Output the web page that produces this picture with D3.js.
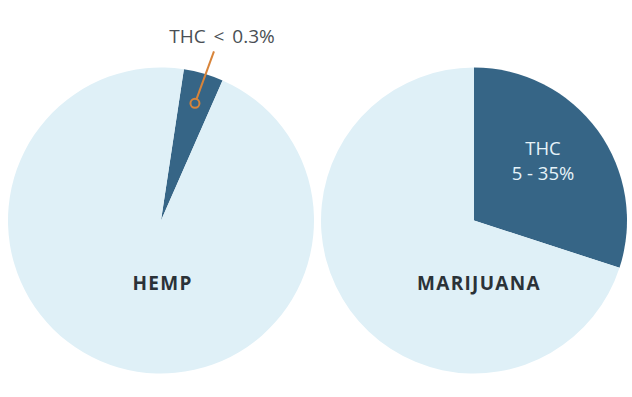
<!DOCTYPE html>
<html>
<head>
<meta charset="utf-8">
<script src="https://cdn.jsdelivr.net/npm/d3@7"></script>
<style>
  html, body { margin: 0; padding: 0; background: #fff; }
  svg { display: block; font-family: "Open Sans", "Noto Sans", sans-serif; }
</style>
</head>
<body>
<div id="chart"></div>
<script>
// Dados das pizzas
const plants = ['HEMP', 'MARIJUANA'];
const hempValues = [4.2, 95.8];        // THC, resto
const marijuanaValues = [30, 70];      // THC, resto
const sliceNames = ['THC', 'Outros'];
const hempLabel = 'THC < 0.3%';
const marijuanaLabel = ['THC', '5 - 35%'];

const width = 632, height = 397;
const colors = d3.scaleOrdinal().domain(sliceNames).range(['#366586', '#dff0f7']);

const svg = d3.select('#chart').append('svg')
    .attr('width', width)
    .attr('height', height);

const radius = 153;
const centerX = d3.scalePoint().domain(plants).range([161, 474]);
const cy = 220.5;

const arc = d3.arc().innerRadius(0).outerRadius(radius);

function drawPie(name, values, startAngle, labelDx) {
    const pie = d3.pie().sort(null)
        .startAngle(startAngle)
        .endAngle(startAngle + 2 * Math.PI);
    const arcs = pie(values);
    const g = svg.append('g')
        .attr('transform', `translate(${centerX(name)},${cy})`);
    g.selectAll('path')
        .data(arcs)
        .enter()
        .append('path')
        .attr('d', arc)
        .attr('fill', (d, i) => colors(sliceNames[i]));
    g.append('text')
        .attr('x', labelDx)
        .attr('y', 69)
        .attr('text-anchor', 'middle')
        .attr('font-size', '19px')
        .attr('font-weight', 700)
        .attr('letter-spacing', '1.3px')
        .attr('fill', '#2b3238')
        .text(name);
    return { g, arcs };
}

// Cânhamo (fatia começa ligeiramente deslocada)
const hemp = drawPie('HEMP', hempValues, 8.6 * Math.PI / 180, 1.5);
// Maconha
const mj = drawPie('MARIJUANA', marijuanaValues, 0, 5);

// Linha de chamada do cânhamo
const thcArc = hemp.arcs[0];
const midA = (thcArc.startAngle + thcArc.endAngle) / 2;
const dotR = 122;
const dot = [Math.sin(midA) * dotR, -Math.cos(midA) * dotR];
const lineEnd = [dot[0] + 19, dot[1] - 52];
hemp.g.append('line')
    .attr('x1', dot[0]).attr('y1', dot[1])
    .attr('x2', lineEnd[0]).attr('y2', lineEnd[1])
    .attr('stroke', '#d8843a')
    .attr('stroke-width', 2);
hemp.g.append('circle')
    .attr('cx', dot[0]).attr('cy', dot[1])
    .attr('r', 4.5)
    .attr('fill', '#366586')
    .attr('stroke', '#d8843a')
    .attr('stroke-width', 2);
hemp.g.append('text')
    .attr('x', 61)
    .attr('y', -178)
    .attr('text-anchor', 'middle')
    .attr('font-size', '19px')
    .attr('word-spacing', '3px')
    .attr('fill', '#4a4f54')
    .text(hempLabel);

// Rótulo da fatia de THC na maconha
const mjText = mj.g.append('text')
    .attr('text-anchor', 'middle')
    .attr('font-size', '18.5px')
    .attr('fill', '#e6f3f9');
marijuanaLabel.forEach((t, i) => {
    mjText.append('tspan')
        .attr('x', 69)
        .attr('y', -66 + i * 25)
        .text(t);
});
</script>
</body>
</html>
